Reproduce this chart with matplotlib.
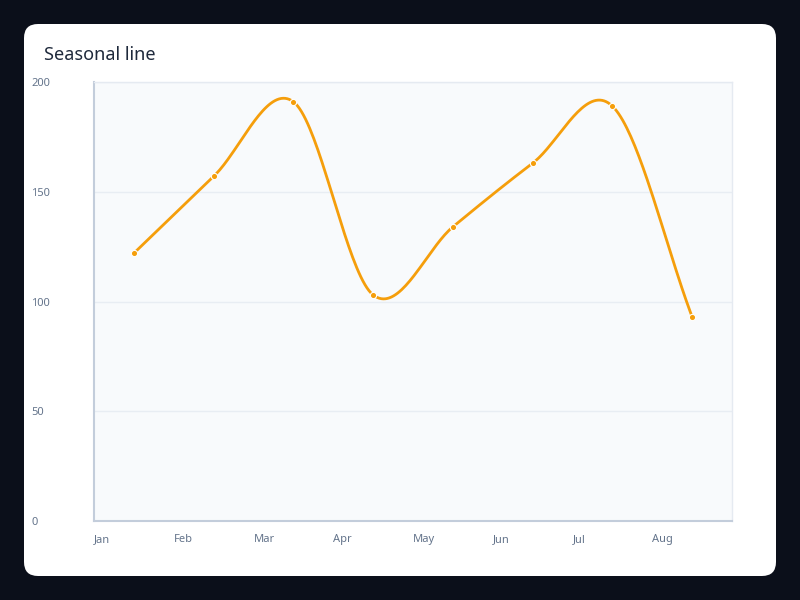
import numpy as np
import matplotlib
matplotlib.use('Agg')
import matplotlib.pyplot as plt
from matplotlib.patches import FancyBboxPatch

months = ['Jan', 'Feb', 'Mar', 'Apr', 'May', 'Jun', 'Jul', 'Aug']
values = [122, 157, 191, 103, 134, 163, 189, 93]
y_ticks = [0, 50, 100, 150, 200]

plt.rcParams['font.family'] = ['Noto Sans', 'DejaVu Sans']


def catmull_rom(xs, ys, steps=40):
    # smooth curve through the points, one-sided slopes at the ends
    xs = np.asarray(xs, float)
    ys = np.asarray(ys, float)
    n = len(xs)
    out_x, out_y = [], []
    for i in range(n - 1):
        m0 = (ys[i + 1] - ys[i - 1]) / 2 if i > 0 else ys[i + 1] - ys[i]
        m1 = (ys[i + 2] - ys[i]) / 2 if i + 2 < n else ys[i + 1] - ys[i]
        t = np.linspace(0, 1, steps)
        h00 = 2 * t**3 - 3 * t**2 + 1
        h10 = t**3 - 2 * t**2 + t
        h01 = -2 * t**3 + 3 * t**2
        h11 = t**3 - t**2
        out_y.append(h00 * ys[i] + h10 * m0 + h01 * ys[i + 1] + h11 * m1)
        out_x.append(xs[i] + t * (xs[i + 1] - xs[i]))
    return np.concatenate(out_x), np.concatenate(out_y)


fig = plt.figure(figsize=(8, 6), dpi=100)
fig.patch.set_facecolor('#0b0f1a')

card = FancyBboxPatch((24, 24), 752, 552, boxstyle='round,pad=0,rounding_size=14',
                      transform=None, facecolor='white', edgecolor='none', zorder=-10)
fig.patches.append(card)

fig.text(44 / 800, 1 - 55 / 600, 'Seasonal line', fontsize=13, color='#1e293b',
         ha='left', va='center')

ax = fig.add_axes([94 / 800, 79 / 600, 638 / 800, 439 / 600])
ax.set_facecolor('#f8fafc')

x = np.arange(len(months)) + 0.5
cx, cy = catmull_rom(x, values)
ax.plot(cx, cy, color='#f59e0b', lw=2, zorder=3, solid_capstyle='round')
ax.plot(x, values, 'o', color='#f59e0b', ms=4.5, mec='white', mew=0.8, zorder=4)

ax.set_xlim(0, len(months))
ax.set_ylim(0, 200)
ax.set_xticks(np.arange(len(months)))
ax.set_xticklabels(months)
for lbl in ax.get_xticklabels():
    lbl.set_horizontalalignment('left')
ax.set_yticks(y_ticks)
for lbl in ax.get_yticklabels():
    lbl.set_horizontalalignment('left')
ax.tick_params(axis='both', length=0, labelsize=8, labelcolor='#64748b')
ax.tick_params(axis='y', pad=45)
ax.tick_params(axis='x', pad=9.5)

ax.grid(axis='y', color='#e8edf3', lw=1)
ax.set_axisbelow(True)
for side in ['top', 'right']:
    ax.spines[side].set_color('#e5eaf1')
    ax.spines[side].set_linewidth(1)
for side in ['left', 'bottom']:
    ax.spines[side].set_color('#c3cddb')
    ax.spines[side].set_linewidth(1.5)

fig.savefig('out.png', dpi=100, facecolor=fig.get_facecolor())
